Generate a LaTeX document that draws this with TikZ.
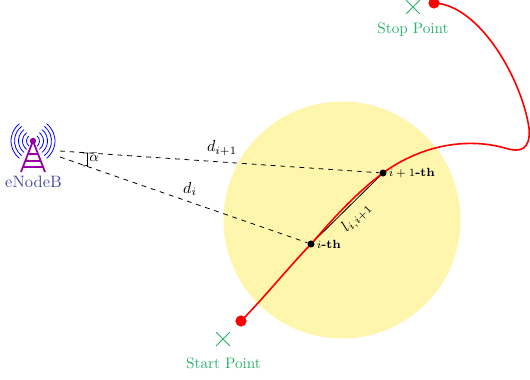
\documentclass[tikz,border=0pt]{standalone}
\usepackage{amsmath,amssymb}
\usepackage{tikz}
\usetikzlibrary{shapes.misc,backgrounds}
\definecolor{cellyellow}{RGB}{255,246,174}
\definecolor{pointgreen}{RGB}{38,178,106}
\definecolor{towerpurple}{RGB}{150,0,160}
\definecolor{enbblue}{RGB}{72,72,168}
\tikzset{
    waypoint/.style={circle,fill=black,inner sep=0pt,minimum size=4.4pt},
    endpoint/.style={circle,fill=red,inner sep=0pt,minimum size=7pt},
    crossmark/.style={cross out,draw=pointgreen,inner sep=0pt,minimum size=8pt,line width=0.5pt},
    pointlabel/.style={text=pointgreen,font=\fontsize{9.5}{11}\selectfont},
    ordlabel/.style={font=\fontsize{7.4}{9}\selectfont\bfseries,anchor=west,inner sep=1pt},
    link/.style={dashed,line width=0.5pt},
    route/.style={red,line width=1pt}
}
\begin{document}
\begin{tikzpicture}[x=0.625pt,y=-0.625pt]
\useasboundingbox (0,0) rectangle (530,380);
% tower
\coordinate (top) at (33,141);
\foreach \r in {6.5,10.5,14.5,18.5,22}{
    \draw[blue,line width=0.5pt] ([shift={(-52:\r)}]top) arc (-52:52:\r);
    \draw[blue,line width=0.5pt] ([shift={(128:\r)}]top) arc (128:232:\r);
}
\draw[towerpurple,line width=1.1pt] (33,141) -- (21,172) (33,141) -- (45,172) (28,154) -- (38,154) (25.5,161) -- (40.5,161) (23,167) -- (43,167);
\fill[towerpurple] (top) circle (3.2);
\node[text=enbblue,font=\fontsize{10.3}{12}\selectfont] (enb) at (33.5,182) {eNodeB};
\coordinate (linka) at (60,151);
\coordinate (linkb) at (60,157);
% trajectory
\node[endpoint] (start) at (241,321) {};
\node[endpoint] (stop) at (434,3) {};
\node[waypoint] (pi) at (311,244) {};
\node[waypoint] (pj) at (383,173) {};
\begin{scope}[on background layer]
\fill[cellyellow] (342,220) circle (118.5);
\draw[line width=0.5pt] (pi) -- (pj);
\draw[route] (start.center) .. controls (262,300) and (288,268) .. (pi.center) .. controls (327,226) and (352,196) .. (pj.center) .. controls (420,146) and (465,137) .. (505,148) .. controls (520,153) and (531,150) .. (529,128) .. controls (522,80) and (480,5) .. (stop.center);
\end{scope}
\draw[link] (linka) -- (pj);
\draw[link] (linkb) -- (pi);
\draw[line width=0.5pt] (83,153) -- (87.5,153) -- (87.5,165.5) -- (83,166);
\node[inner sep=0pt,font=\small] (alpha) at (94,157) {$\bar{\alpha}$};
\node[inner sep=0pt] (di) at (190,189) {$d_i$};
\node[inner sep=0pt] (dj) at (222,148) {$d_{i+1}$};
\node[inner sep=0pt,rotate=45] (lij) at (357,218) {$l_{i,i+1}$};
\node[ordlabel] (ith) at (pi.east) {$i$-th};
\node[ordlabel] (jth) at (pj.east) {$i+1$-th};
\node[crossmark] (cstart) at (223,339) {};
\node[crossmark] (cstop) at (413,7) {};
\node[pointlabel] (lstart) at (223.5,363) {Start Point};
\node[pointlabel] (lstop) at (413,30) {Stop Point};
\end{tikzpicture}
\end{document}
